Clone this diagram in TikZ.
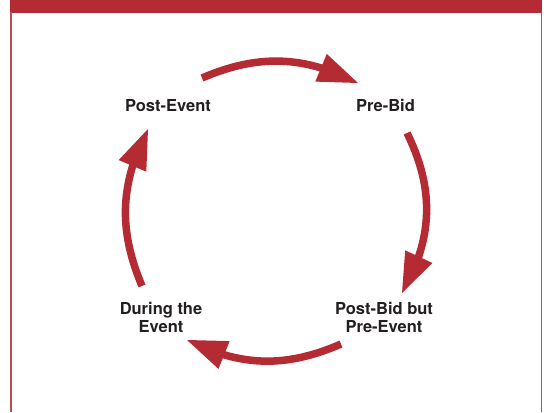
\documentclass[tikz,border=0pt]{standalone}
\usepackage{fontspec}
\setmainfont{TeX Gyre Heros}
\usetikzlibrary{arrows.meta,bending}
\definecolor{brandred}{RGB}{181,43,51}
\definecolor{txtgray}{RGB}{35,31,32}
\begin{document}
\begin{tikzpicture}[x=1bp,y=1bp,
  lbl/.style={font=\fontsize{16.5bp}{18.4bp}\selectfont\bfseries, text=txtgray, inner sep=0pt, align=center},
  cyc/.style={draw=brandred, line width=7.5bp, -{Triangle[length=40bp,width=30bp,line width=0pt]}},
  frameline/.style={draw=brandred!85, line width=1.5bp}]
\useasboundingbox (0,0) rectangle (544,412);
% frame
\fill[brandred] (10,399) rectangle (542,412);
\draw[frameline] (10.75,0) -- (10.75,400);
\draw[frameline] (541.25,0) -- (541.25,400);
% labels
\node[lbl, anchor=base] (post) at (168,300.3) {Post-Event};
\node[lbl, anchor=base] (pre) at (385.5,300.3) {Pre-Bid};
\node[lbl] (during) at (161,94.5) {During the\\Event};
\node[lbl] (postbid) at (384,94.5) {Post-Bid but\\Pre-Event};
% arrow ends
\coordinate (t1) at (202,334); \coordinate (h1) at (358,329);
\coordinate (t2) at (407,279); \coordinate (h2) at (402,119);
\coordinate (t3) at (341,68);  \coordinate (h3) at (187,72);
\coordinate (t4) at (142,126); \coordinate (h4) at (148,283);
\draw[cyc] (t1) to[bend left=25] (h1);
\draw[cyc] (t2) to[bend left=28] (h2);
\draw[cyc] (t3) to[bend left=25] (h3);
\draw[cyc] (t4) to[bend left=25] (h4);
\end{tikzpicture}
\end{document}
